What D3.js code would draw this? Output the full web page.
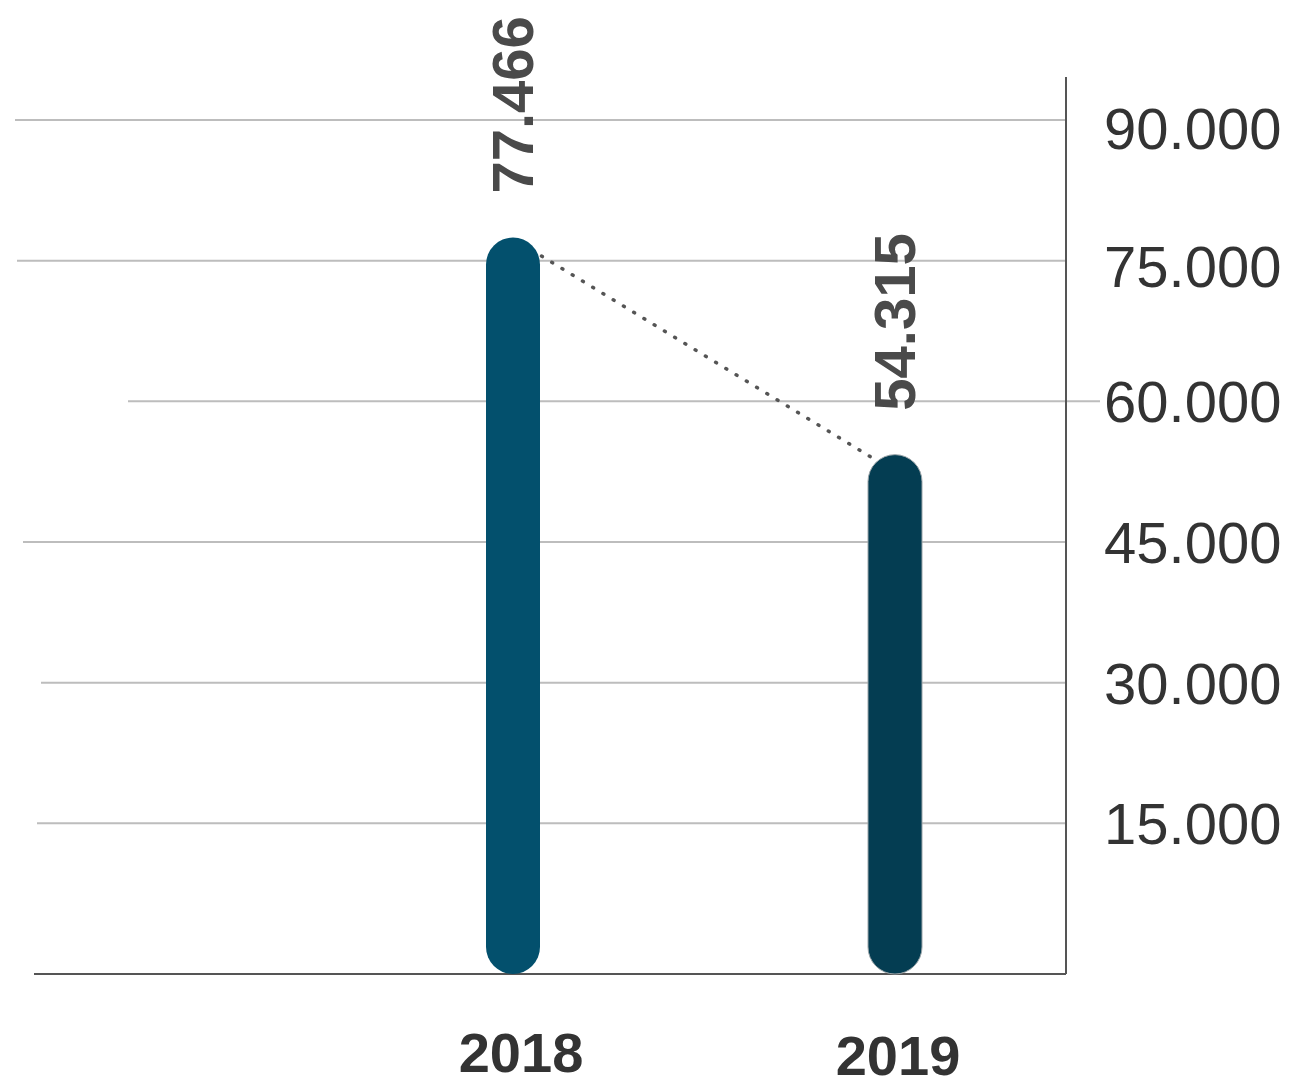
<!DOCTYPE html>
<html>
<head>
<meta charset="utf-8">
<script src="https://cdn.jsdelivr.net/npm/d3@7"></script>
<style>
  html, body { margin: 0; padding: 0; background: #fff; }
  svg { display: block; font-family: "Liberation Sans", Arial, sans-serif; }
</style>
</head>
<body>
<div class="chart"></div>
<script>
// data
const years = ['2018', '2019'];
const values = [77466, 54315];
const barColors = ['#03506d', '#043d52'];
const ticks = [15000, 30000, 45000, 60000, 75000, 90000];

const width = 1294;
const height = 1088;

const baseY = 974;
const axisX = 1066;

// where each gridline starts on the left (they are ragged in the original)
const gridStart = {15000: 37, 30000: 41, 45000: 23, 60000: 128, 75000: 17, 90000: 15};

const fmt = v => d3.format(',')(v).replace(/,/g, '.');

const svg = d3.select('.chart')
  .append('svg')
  .attr('width', width)
  .attr('height', height);

const x = d3.scalePoint()
  .domain(years)
  .range([513, 895]);

const y = d3.scaleLinear()
  .domain([0, 90000])
  .range([964, 120]);

// gridlines
svg.append('g')
  .selectAll('line')
  .data(ticks)
  .join('line')
  .attr('x1', d => gridStart[d])
  .attr('x2', d => d === 60000 ? 1100 : axisX)
  .attr('y1', d => y(d))
  .attr('y2', d => y(d))
  .attr('stroke', '#bdbdbd')
  .attr('stroke-width', 2);

// right axis + baseline
svg.append('line')
  .attr('x1', axisX).attr('x2', axisX)
  .attr('y1', 77).attr('y2', baseY)
  .attr('stroke', '#555').attr('stroke-width', 2);

svg.append('line')
  .attr('x1', 34).attr('x2', axisX)
  .attr('y1', baseY).attr('y2', baseY)
  .attr('stroke', '#555').attr('stroke-width', 2);

// tick labels
svg.append('g')
  .selectAll('text')
  .data(ticks)
  .join('text')
  .attr('x', 1104)
  .attr('y', d => y(d) + (d === 90000 ? 8 : d === 75000 ? 5 : 0))
  .attr('dy', '0.36em')
  .attr('font-size', 58)
  .attr('fill', '#333')
  .text(d => fmt(d));

const barW = 54;
const data = years.map((yr, i) => ({year: yr, value: values[i], color: barColors[i]}));

// dotted connector
svg.append('line')
  .attr('x1', x(years[0]) + 8)
  .attr('y1', y(values[0]) + 6)
  .attr('x2', x(years[1]) - 15)
  .attr('y2', y(values[1]) + 8)
  .attr('stroke', '#555')
  .attr('stroke-width', 3.5)
  .attr('stroke-dasharray', '1 11')
  .attr('stroke-linecap', 'round');

// bars
svg.append('g')
  .selectAll('rect')
  .data(data)
  .join('rect')
  .attr('x', d => x(d.year) - barW / 2)
  .attr('y', d => y(d.value))
  .attr('width', barW)
  .attr('height', d => baseY - y(d.value))
  .attr('rx', barW / 2)
  .attr('fill', d => d.color)
  .attr('stroke', (d, i) => i === 1 ? '#9aa4a8' : 'none')
  .attr('stroke-width', 1);

// value labels (rotated)
svg.append('g')
  .selectAll('text')
  .data(data)
  .join('text')
  .attr('transform', d => `translate(${x(d.year) + 20},${y(d.value) - 44}) rotate(-90)`)
  .attr('font-size', 58)
  .attr('font-weight', 'bold')
  .attr('fill', '#4a4a4a')
  .text(d => fmt(d.value));

// year labels
svg.append('g')
  .selectAll('text')
  .data(data)
  .join('text')
  .attr('x', (d, i) => x(d.year) + (i === 0 ? 8 : 3))
  .attr('y', (d, i) => i === 0 ? 1072 : 1075)
  .attr('text-anchor', 'middle')
  .attr('font-size', 56)
  .attr('font-weight', 'bold')
  .attr('fill', '#333')
  .text(d => d.year);
</script>
</body>
</html>
